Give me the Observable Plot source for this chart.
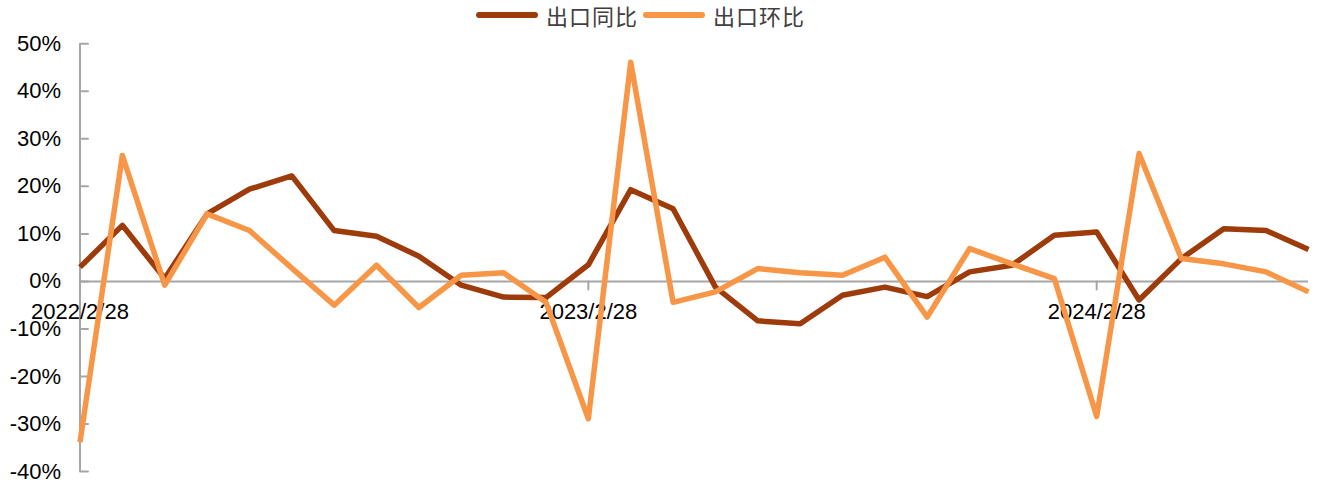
<!DOCTYPE html>
<html>
<head>
<meta charset="utf-8">
<script src="https://cdn.jsdelivr.net/npm/d3@7"></script>
<script src="https://cdn.jsdelivr.net/npm/@observablehq/plot@0.6"></script>
<style>
  html, body { margin: 0; padding: 0; background: #fff; overflow: hidden; }
  #legend { position: relative; height: 30px; font-family: "Noto Sans CJK SC", sans-serif; font-size: 22px; color: #404040; }
  .item { position: absolute; top: 0; height: 30px; display: flex; align-items: center; }
  .item svg { margin-right: 8px; }
  #chart svg { display: block; }
</style>
</head>
<body>
<div id="legend"></div>
<div id="chart"></div>
<script>
// Month-end dates (category axis)
const dates = [
  "2022/2/28","2022/3/31","2022/4/30","2022/5/31","2022/6/30","2022/7/31",
  "2022/8/31","2022/9/30","2022/10/31","2022/11/30","2022/12/31","2023/1/31",
  "2023/2/28","2023/3/31","2023/4/30","2023/5/31","2023/6/30","2023/7/31",
  "2023/8/31","2023/9/30","2023/10/31","2023/11/30","2023/12/31","2024/1/31",
  "2024/2/28","2024/3/31","2024/4/30","2024/5/31","2024/6/30","2024/7/31"
];
// 出口同比 (%)
const yoy = [3.0, 11.8, 0.6, 14.2, 19.4, 22.2, 10.7, 9.5, 5.3, -0.8, -3.3, -3.4,
             3.5, 19.3, 15.3, -1.2, -8.3, -8.9, -2.9, -1.2, -3.2, 2.0, 3.4, 9.7,
             10.4, -3.9, 4.8, 11.1, 10.7, 6.7];
// 出口环比 (%)
const mom = [-33.8, 26.5, -0.8, 14.2, 10.7, 2.8, -5.0, 3.4, -5.5, 1.3, 1.8, -4.4,
             -28.9, 46.1, -4.4, -2.2, 2.7, 1.8, 1.3, 5.1, -7.5, 6.9, 3.7, 0.6,
             -28.4, 26.9, 4.8, 3.7, 2.0, -2.2];
const seriesNames = ["出口同比", "出口环比"];
const seriesColors = ["#9e3b0b", "#f79646"];
const yTicks = [-40, -30, -20, -10, 0, 10, 20, 30, 40, 50];
const xTickLabels = ["2022/2/28", "2023/2/28", "2024/2/28"];

const rowsYoy = dates.map((d, i) => ({date: d, value: yoy[i]}));
const rowsMom = dates.map((d, i) => ({date: d, value: mom[i]}));

const axisGray = "#a6a6a6";
const firstDate = () => dates[0];
const tickShape = { draw(context, l) { context.moveTo(0, 0); context.lineTo(0, -l); } };

const plot = Plot.plot({
  width: 1317,
  height: 455,
  marginTop: 13.3,
  marginBottom: 14,
  marginLeft: 79.5,
  marginRight: 9,
  style: { fontFamily: "'Liberation Sans', Arial, sans-serif", fontSize: "22px", background: "#fff" },
  x: { type: "point", domain: dates, axis: null, padding: 0, round: false },
  y: { domain: [yTicks[0], yTicks[yTicks.length - 1]], axis: null },
  marks: [
    Plot.ruleX([dates[0]], { y1: yTicks[0], y2: yTicks[yTicks.length - 1], stroke: axisGray, strokeWidth: 2 }),
    Plot.ruleY([0], { stroke: axisGray, strokeWidth: 2 }),
    Plot.vector(yTicks, { x: firstDate, y: d => d, length: 8, rotate: 90, anchor: "start", shape: tickShape, stroke: axisGray, strokeWidth: 2 }),
    Plot.vector(xTickLabels, { x: d => d, y: () => 0, length: 8, rotate: 180, anchor: "start", shape: tickShape, stroke: axisGray, strokeWidth: 2 }),
    Plot.text(yTicks, { x: firstDate, y: d => d, text: d => d + "%", textAnchor: "end", dx: -19, fontSize: 22, fill: "#000" }),
    Plot.text(xTickLabels, { x: d => d, y: () => 0, text: d => d, dy: 30.5, fontSize: 22, fill: "#000" }),
    Plot.line(rowsYoy, { x: "date", y: "value", stroke: seriesColors[0], strokeWidth: 5.5, strokeLinejoin: "round", strokeLinecap: "butt" }),
    Plot.line(rowsMom, { x: "date", y: "value", stroke: seriesColors[1], strokeWidth: 5.5, strokeLinejoin: "round", strokeLinecap: "butt" })
  ]
});
document.getElementById("chart").appendChild(plot);

// Legend
const legend = document.getElementById("legend");
const lefts = [479, 646];
seriesNames.forEach((name, i) => {
  const item = document.createElement("div");
  item.className = "item";
  item.style.left = (lefts[i] - 3) + "px";
  item.innerHTML = `<svg width="62" height="12"><line x1="3" y1="6" x2="59" y2="6" stroke="${seriesColors[i]}" stroke-width="6" stroke-linecap="round"/></svg><span style="letter-spacing:1px">${name}</span>`;
  legend.appendChild(item);
});
</script>
</body>
</html>
